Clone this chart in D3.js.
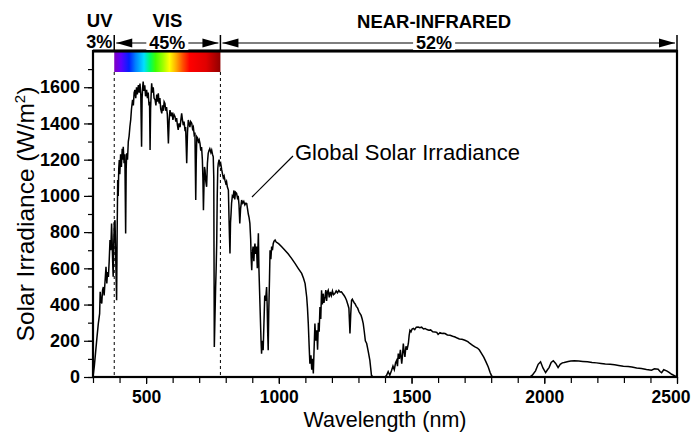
<!DOCTYPE html>
<html>
<head>
<meta charset="utf-8">
<script src="https://cdn.jsdelivr.net/npm/d3@7"></script>
<style>
body { margin: 0; background: #fff; }
svg text { font-family: "Liberation Sans", Arial, sans-serif; fill: #000; }
</style>
</head>
<body>
<div id="chart"></div>
<script>
var width = 693,
    height = 437;

const margin = { top: 51, right: 16, bottom: 60, left: 93 };

// Spectrum: [wavelength nm, irradiance W/m2]
const spectrum = [
  [300,0],[305,60],[310,140],[315,220],[320,295],[325,350],[327,470],[330,420],[333,406],[336,480],
  [339,497],[342,450],[345,520],[349,608],[352,516],[355,580],[358,553],[361,640],[364,756],[367,700],
  [370,848],[372,760],[374,640],[376,553],[378,720],[380,850],[383,866],[385,700],[387,560],[389,424],
  [391,800],[393,1087],[395,1000],[397,1150],[399,1198],[401,1120],[404,1230],[407,1160],[410,1260],[412,1200],
  [414,1271],[417,1180],[420,1230],[423,793],[425,1150],[427,1235],[430,1200],[433,1300],[436,1330],[439,1382],
  [442,1420],[445,1480],[449,1530],[452,1500],[455,1570],[458,1585],[461,1540],[464,1600],[467,1560],[471,1612],
  [474,1570],[477,1620],[480,1560],[483,1271],[485,1540],[487,1600],[489,1631],[492,1580],[495,1610],[498,1550],
  [502,1585],[505,1540],[508,1570],[511,1500],[513,1520],[515,1253],[517,1480],[519,1560],[521,1622],[524,1570],
  [527,1600],[530,1540],[534,1530],[537,1500],[540,1560],[543,1520],[546,1567],[549,1510],[552,1540],[555,1480],
  [559,1456],[562,1500],[565,1470],[568,1520],[571,1511],[574,1470],[577,1490],[580,1450],[584,1290],[587,1420],
  [590,1474],[594,1440],[598,1460],[601,1420],[605,1450],[609,1437],[612,1410],[615,1430],[618,1390],[621,1364],
  [624,1400],[628,1380],[631,1420],[634,1456],[637,1420],[640,1390],[643,1410],[646,1370],[649,1380],[653,1180],
  [656,1350],[659,1419],[662,1400],[665,1380],[668,1410],[672,1401],[675,1370],[678,1380],[681,1340],[684,1350],
  [687,977],[689,1200],[691,1327],[694,1320],[697,1300],[700,1310],[703,1290],[706,1250],[709,1270],[712,1200],
  [714,1100],[716,921],[718,1050],[720,1160],[722,1143],[725,1080],[728,1050],[731,1180],[734,1235],[737,1250],
  [740,1260],[744,1240],[747,1253],[750,1230],[753,1216],[755,1100],[757,166],[759,300],[762,500],[764,600],
  [766,737],[768,1000],[770,1150],[772,1180],[775,1200],[778,1170],[781,1180],[785,1143],[788,1120],[791,1100],
  [794,1110],[797,1087],[800,1070],[803,1080],[806,1050],[810,1032],[812,900],[814,780],[816,682],[818,850],
  [820,900],[822,960],[825,1000],[828,995],[831,1030],[834,980],[837,1020],[841,1014],[844,990],[847,1000],
  [850,950],[853,848],[856,930],[860,977],[864,960],[868,970],[872,950],[876,960],[879,958],[882,930],
  [885,900],[888,880],[891,848],[894,760],[896,650],[898,590],[900,680],[903,720],[906,640],[908,700],
  [910,737],[913,680],[916,720],[919,600],[921,700],[923,793],[925,600],[928,450],[931,300],[933,200],
  [935,129],[937,200],[939,160],[941,148],[944,300],[947,450],[950,420],[954,497],[956,400],[958,250],
  [960,148],[962,350],[965,550],[967,700],[970,650],[973,720],[976,700],[979,737],[982,750],[986,756],
  [990,745],[995,740],[1000,735],[1010,720],[1023,700],[1035,680],[1048,655],[1061,627],[1073,600],[1086,572],
  [1093,545],[1099,516],[1105,442],[1108,380],[1111,295],[1114,180],[1117,74],[1121,120],[1124,40],[1127,100],
  [1130,19],[1133,160],[1136,295],[1139,200],[1143,258],[1146,150],[1149,300],[1152,250],[1155,387],[1158,320],
  [1161,479],[1164,400],[1167,460],[1170,410],[1174,442],[1177,480],[1180,420],[1183,470],[1186,479],[1190,440],
  [1194,470],[1198,450],[1202,475],[1206,455],[1211,461],[1216,475],[1221,465],[1226,478],[1231,468],[1236,470],
  [1241,460],[1246,450],[1250,440],[1255,424],[1260,400],[1264,380],[1268,240],[1271,350],[1274,424],[1277,430],
  [1280,420],[1284,410],[1287,405],[1292,390],[1297,380],[1302,360],[1306,350],[1310,340],[1314,320],[1318,295],
  [1322,250],[1326,200],[1331,185],[1337,140],[1343,92],[1349,9],[1355,0],[1400,0],[1406,9],[1412,30],
  [1418,10],[1425,37],[1430,60],[1435,40],[1440,80],[1444,92],[1447,60],[1450,129],[1454,100],[1458,150],
  [1463,74],[1466,120],[1469,185],[1472,140],[1475,111],[1479,170],[1483,150],[1488,185],[1491,230],[1494,258],
  [1498,250],[1502,265],[1507,268],[1512,262],[1518,275],[1525,276],[1531,272],[1538,275],[1545,265],[1551,268],
  [1558,262],[1565,258],[1572,260],[1580,250],[1588,249],[1595,246],[1600,235],[1607,245],[1614,240],[1620,242],
  [1626,240],[1635,232],[1645,230],[1655,225],[1664,221],[1672,215],[1680,210],[1690,208],[1701,203],[1712,195],
  [1720,185],[1730,175],[1739,166],[1748,160],[1755,150],[1764,129],[1772,110],[1780,85],[1789,55],[1796,25],
  [1802,5],[1810,0],[1945,0],[1955,10],[1967,34],[1977,70],[1986,84],[1995,50],[2005,24],[2012,40],
  [2018,52],[2026,80],[2034,90],[2043,75],[2052,52],[2060,70],[2068,78],[2075,80],[2090,85],[2100,88],
  [2113,90],[2130,88],[2145,86],[2163,84],[2180,80],[2197,78],[2214,75],[2230,72],[2248,70],[2265,67],
  [2280,64],[2298,60],[2316,58],[2330,55],[2348,50],[2366,47],[2385,42],[2404,38],[2415,45],[2429,43],
  [2436,30],[2442,24],[2450,40],[2461,34],[2470,25],[2480,15],[2492,6],[2500,0]
];

const xMajorTicks = [500, 1000, 1500, 2000, 2500];
const xMinorTicks = d3.range(300, 2501, 100);
const yMajorTicks = [0, 200, 400, 600, 800, 1000, 1200, 1400, 1600];
const yMinorTicks = d3.range(0, 1701, 100);

const bandNames = ['UV', 'VIS', 'NEAR-INFRARED'];
const bandShares = ['3%', '45%', '52%'];
const bandStart = [300, 380, 780];
const bandEnd = [380, 780, 2500];

const seriesLabel = 'Global Solar Irradiance';

// rainbow for the visible strip (style only)
const rainbow = [
  [0, '#8000c0'], [0.063, '#6000ff'], [0.14, '#0020ff'], [0.2, '#0080ff'], [0.28, '#00e0ff'],
  [0.34, '#00ff60'], [0.39, '#40ff00'], [0.46, '#a0ff00'], [0.52, '#ffff00'], [0.58, '#ffb000'],
  [0.645, '#ff5000'], [0.71, '#ff0000'], [0.865, '#e00000'], [1, '#900000']
];

var xScale = d3.scaleLinear()
    .domain([300, 2500])
    .range([margin.left, width - margin.right]);

var yScale = d3.scaleLinear()
    .domain([0, 1800])
    .range([height - margin.bottom, margin.top]);

var svg = d3.select('#chart').append('svg')
    .attr('width', width)
    .attr('height', height);

const plotTop = yScale(1800),
      plotBottom = yScale(0),
      plotLeft = xScale(300),
      plotRight = xScale(2500);

svg.append('clipPath').attr('id', 'clip')
  .append('rect')
    .attr('x', plotLeft).attr('y', plotTop)
    .attr('width', plotRight - plotLeft).attr('height', plotBottom - plotTop);

// visible colour strip
const grad = svg.append('defs').append('linearGradient')
    .attr('id', 'rainbow')
    .attr('x1', '0%').attr('x2', '100%');
grad.selectAll('stop')
    .data(rainbow).enter()
    .append('stop')
    .attr('offset', d => d[0])
    .attr('stop-color', d => d[1]);

svg.append('rect')
    .attr('x', xScale(bandStart[1]))
    .attr('y', plotTop)
    .attr('width', xScale(bandEnd[1]) - xScale(bandStart[1]))
    .attr('height', 21)
    .attr('fill', 'url(#rainbow)');

// dashed band boundaries
svg.selectAll('.boundary')
    .data([bandEnd[0], bandEnd[1]]).enter()
    .append('line')
    .attr('class', 'boundary')
    .attr('x1', d => xScale(d)).attr('x2', d => xScale(d))
    .attr('y1', plotTop + 21).attr('y2', plotBottom)
    .attr('stroke', '#000')
    .attr('stroke-width', 1)
    .attr('stroke-dasharray', '3,3');

// the spectrum
const line = d3.line()
    .x(d => xScale(d[0]))
    .y(d => yScale(d[1]));

svg.append('path')
    .datum(spectrum)
    .attr('clip-path', 'url(#clip)')
    .attr('fill', 'none')
    .attr('stroke', '#000')
    .attr('stroke-width', 1.5)
    .attr('d', line);

// axes: minor ticks first, then labelled ones
svg.append('g')
    .attr('transform', `translate(0,${plotBottom})`)
    .call(d3.axisBottom(xScale).tickValues(xMinorTicks).tickSize(6).tickFormat(''));
svg.append('g')
    .attr('class', 'x-major')
    .attr('transform', `translate(0,${plotBottom})`)
    .call(d3.axisBottom(xScale).tickValues(xMajorTicks).tickSize(7).tickPadding(7).tickFormat(d3.format('d')));

svg.append('g')
    .attr('transform', `translate(${plotLeft},0)`)
    .call(d3.axisLeft(yScale).tickValues(yMinorTicks).tickSize(5).tickFormat(''));
svg.append('g')
    .attr('class', 'y-major')
    .attr('transform', `translate(${plotLeft},0)`)
    .call(d3.axisLeft(yScale).tickValues(yMajorTicks).tickSize(9).tickPadding(4).tickFormat(d3.format('d')));

svg.selectAll('.domain').remove();
svg.selectAll('.tick line').attr('stroke', '#000').attr('stroke-width', 1.2);
svg.selectAll('.x-major text')
    .style('font-size', '17.5px');
svg.selectAll('.y-major text')
    .style('font-size', '18px');
svg.selectAll('.x-major text, .y-major text')
    .style('font-weight', 'bold')
    .attr('fill', '#000');
// keep the last label inside the picture
svg.selectAll('.x-major .tick text')
    .filter(d => d === 2500)
    .attr('text-anchor', 'end')
    .attr('x', 13);

// frame
svg.append('rect')
    .attr('x', plotLeft).attr('y', plotTop)
    .attr('width', plotRight - plotLeft).attr('height', plotBottom - plotTop)
    .attr('fill', 'none')
    .attr('stroke', '#000')
    .attr('stroke-width', 2.2);
svg.append('line')
    .attr('x1', plotLeft).attr('x2', plotRight)
    .attr('y1', plotTop).attr('y2', plotTop)
    .attr('stroke', '#000').attr('stroke-width', 3);

// axis titles
svg.append('text')
    .attr('x', (plotLeft + plotRight) / 2)
    .attr('y', 427)
    .attr('text-anchor', 'middle')
    .style('font-size', '21.5px')
    .text('Wavelength (nm)');

const yTitle = svg.append('text')
    .attr('transform', `translate(34,${(plotTop + plotBottom) / 2}) rotate(-90)`)
    .attr('text-anchor', 'middle')
    .style('font-size', '24.5px');
yTitle.append('tspan').text('Solar Irradiance (W/m');
yTitle.append('tspan').attr('dy', -9).style('font-size', '15px').text('2');
yTitle.append('tspan').attr('dy', 9).text(')');

// series annotation
svg.append('line')
    .attr('x1', 293).attr('y1', 156)
    .attr('x2', 252).attr('y2', 197)
    .attr('stroke', '#000').attr('stroke-width', 1.2);
svg.append('text')
    .attr('x', 295).attr('y', 160)
    .style('font-size', '22px')
    .text(seriesLabel);

// band header
const arrowY = 43;
const nameAt = [325, 580, 1585];
const nameY = [27, 27, 28];

function arrowHead(xTip, dir) {
    const len = 16, half = 4.5;
    svg.append('path')
        .attr('d', `M${xTip},${arrowY} L${xTip + dir * len},${arrowY - half} L${xTip + dir * len},${arrowY + half} Z`)
        .attr('fill', '#000');
}

bandNames.forEach((name, i) => {
    const x0 = xScale(bandStart[i]), x1 = xScale(bandEnd[i]);

    svg.append('text')
        .attr('x', xScale(nameAt[i]))
        .attr('y', nameY[i])
        .attr('text-anchor', 'middle')
        .style('font-size', '18.5px')
        .style('font-weight', 'bold')
        .text(name);

    // boundary tick on the right edge of the band
    svg.append('line')
        .attr('x1', x1).attr('x2', x1)
        .attr('y1', 35).attr('y2', plotTop)
        .attr('stroke', '#000').attr('stroke-width', 1.5);

    if (i === 0) {
        svg.append('text')
            .attr('x', x1 - 2)
            .attr('y', 48)
            .attr('text-anchor', 'end')
            .style('font-size', '18px')
            .style('font-weight', 'bold')
            .text(bandShares[i]);
        return;
    }

    svg.append('line')
        .attr('x1', x0 + 2).attr('x2', x1 - 2)
        .attr('y1', arrowY).attr('y2', arrowY)
        .attr('stroke', '#000').attr('stroke-width', 1.2);
    arrowHead(x0 + 2, 1);
    arrowHead(x1 - 2, -1);

    const t = svg.append('text')
        .attr('x', xScale(nameAt[i]))
        .attr('y', 49)
        .attr('text-anchor', 'middle')
        .style('font-size', '18px')
        .style('font-weight', 'bold')
        .text(bandShares[i]);
    const bb = t.node().getBBox();
    svg.insert('rect', () => t.node())
        .attr('x', bb.x - 3).attr('y', bb.y + 3)
        .attr('width', bb.width + 6).attr('height', bb.height - 6)
        .attr('fill', '#fff');
});
</script>
</body>
</html>
